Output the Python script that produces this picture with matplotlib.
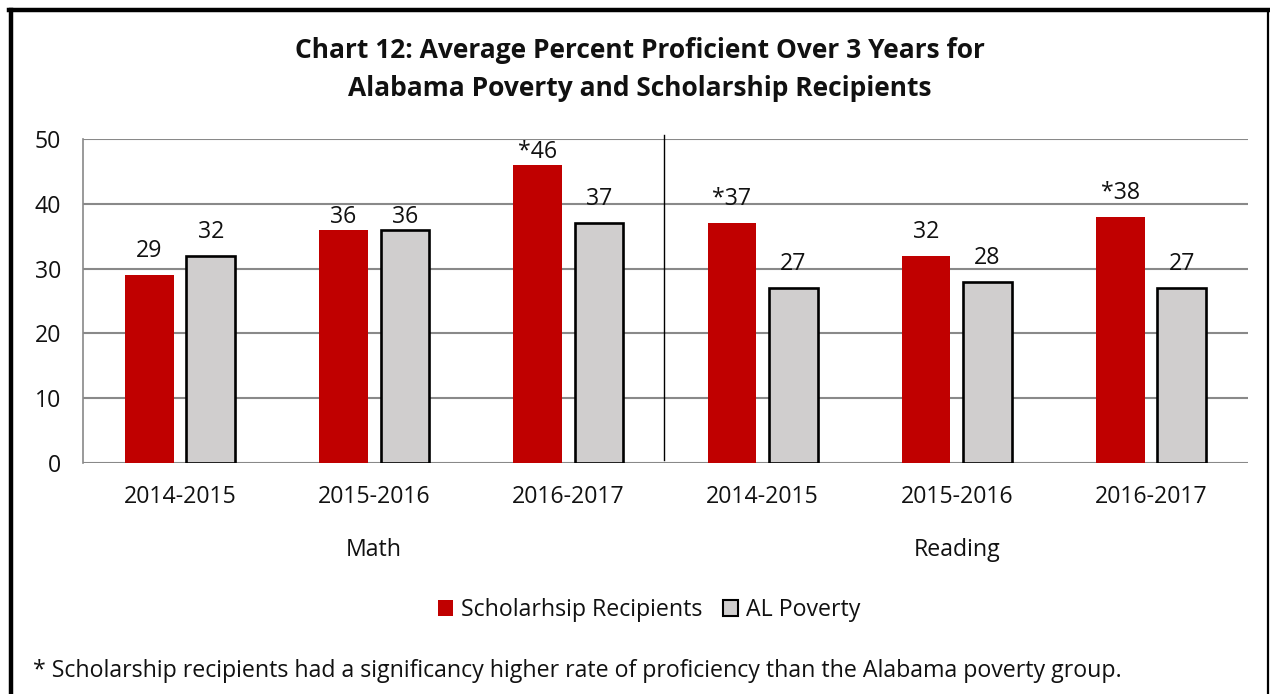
import matplotlib
matplotlib.use("Agg")
import matplotlib.pyplot as plt
import numpy as np
from matplotlib.lines import Line2D
from matplotlib.patches import Patch

plt.rcParams['font.family'] = ['Open Sans', 'DejaVu Sans']

years = ["2014-2015", "2015-2016", "2016-2017", "2014-2015", "2015-2016", "2016-2017"]
subjects = ["Math", "Reading"]
scholarship = [29, 36, 46, 37, 32, 38]
al_poverty = [32, 36, 37, 27, 28, 27]
significant = [False, False, True, True, False, True]

red = "#C00000"
gray = "#D0CECE"
grid_col = "#898989"
text_col = "#111111"
fs = 16.7

fig = plt.figure(figsize=(12.70, 6.94), dpi=100)
ax = fig.add_axes([83 / 1270, 1 - 463 / 694, (1248 - 83) / 1270, (463 - 139) / 694])

x = np.arange(len(years))
w = 0.25
off = 0.158
ax.bar(x - off, scholarship, w, color=red, edgecolor="none", zorder=3)
ax.bar(x + off, al_poverty, w, color=gray, edgecolor="black", linewidth=1.9, zorder=3)


def label_lift(v):
    # labels that would sit right on a gridline are tucked in closer to the bar
    return 2.0 if (v + 4) % 10 == 0 else 3.7


for xi, v, s in zip(x, scholarship, significant):
    ax.text(xi - off, v + label_lift(v), ("*" if s else "") + str(v), ha="center",
            va="center", fontsize=fs, color=text_col, zorder=5)
for xi, v in zip(x, al_poverty):
    ax.text(xi + off, v + label_lift(v), str(v), ha="center", va="center",
            fontsize=fs, color=text_col, zorder=5)

ax.set_xlim(-0.5, len(years) - 0.5)
ax.set_ylim(0, 50)
ax.set_yticks(np.arange(0, 51, 10))
ax.yaxis.grid(True, color=grid_col, linewidth=1.5, zorder=0)
ax.set_axisbelow(True)
for side in ["top", "right", "bottom"]:
    ax.spines[side].set_visible(False)
ax.spines["left"].set_color(grid_col)
ax.spines["left"].set_linewidth(1.2)
ax.tick_params(axis="both", length=0, labelsize=fs, colors=text_col)
ax.tick_params(axis="y", pad=16)
ax.tick_params(axis="x", pad=16)
ax.set_xticks(x)
ax.set_xticklabels(years)

# separator between the two subject groups
ax.plot([2.49, 2.49], [0.45, 50.6], color="black", linewidth=1.0, clip_on=False, zorder=4)

# subject labels under the year ticks
for i, subj in enumerate(subjects):
    ax.text(1 + 3 * i, -13.4, subj, ha="center", va="center", fontsize=fs,
            color=text_col, transform=ax.transData, clip_on=False)

fig.text(0.504, 1 - 51 / 694, "Chart 12: Average Percent Proficient Over 3 Years for",
         ha="center", va="center", fontsize=19, fontweight="bold", color=text_col)
fig.text(0.504, 1 - 89 / 694, "Alabama Poverty and Scholarship Recipients",
         ha="center", va="center", fontsize=19, fontweight="bold", color=text_col)

handles = [Patch(facecolor=red, edgecolor="none"),
           Patch(facecolor=gray, edgecolor="black", linewidth=1.5)]
fig.legend(handles, ["Scholarhsip Recipients", "AL Poverty"], loc="center",
           bbox_to_anchor=(649 / 1270, 1 - 610 / 694), ncol=2, frameon=False,
           fontsize=fs, handlelength=0.64, handleheight=0.64, handletextpad=0.35,
           columnspacing=0.9, labelcolor=text_col)

fig.text(33 / 1270, 1 - 671 / 694,
         "* Scholarship recipients had a significancy higher rate of proficiency than the Alabama poverty group.",
         ha="left", va="center", fontsize=fs, color=text_col)

# outer frame
fig.add_artist(Line2D([11 / 1270, 11 / 1270], [0, 1 - 10 / 694], color="black", linewidth=3.2))
fig.add_artist(Line2D([9 / 1270, 1269 / 1270], [1 - 10 / 694, 1 - 10 / 694], color="black", linewidth=3.2))
fig.add_artist(Line2D([1268 / 1270, 1268 / 1270], [0, 1 - 10 / 694], color="black", linewidth=1.6))

fig.savefig("out.png", dpi=100)
